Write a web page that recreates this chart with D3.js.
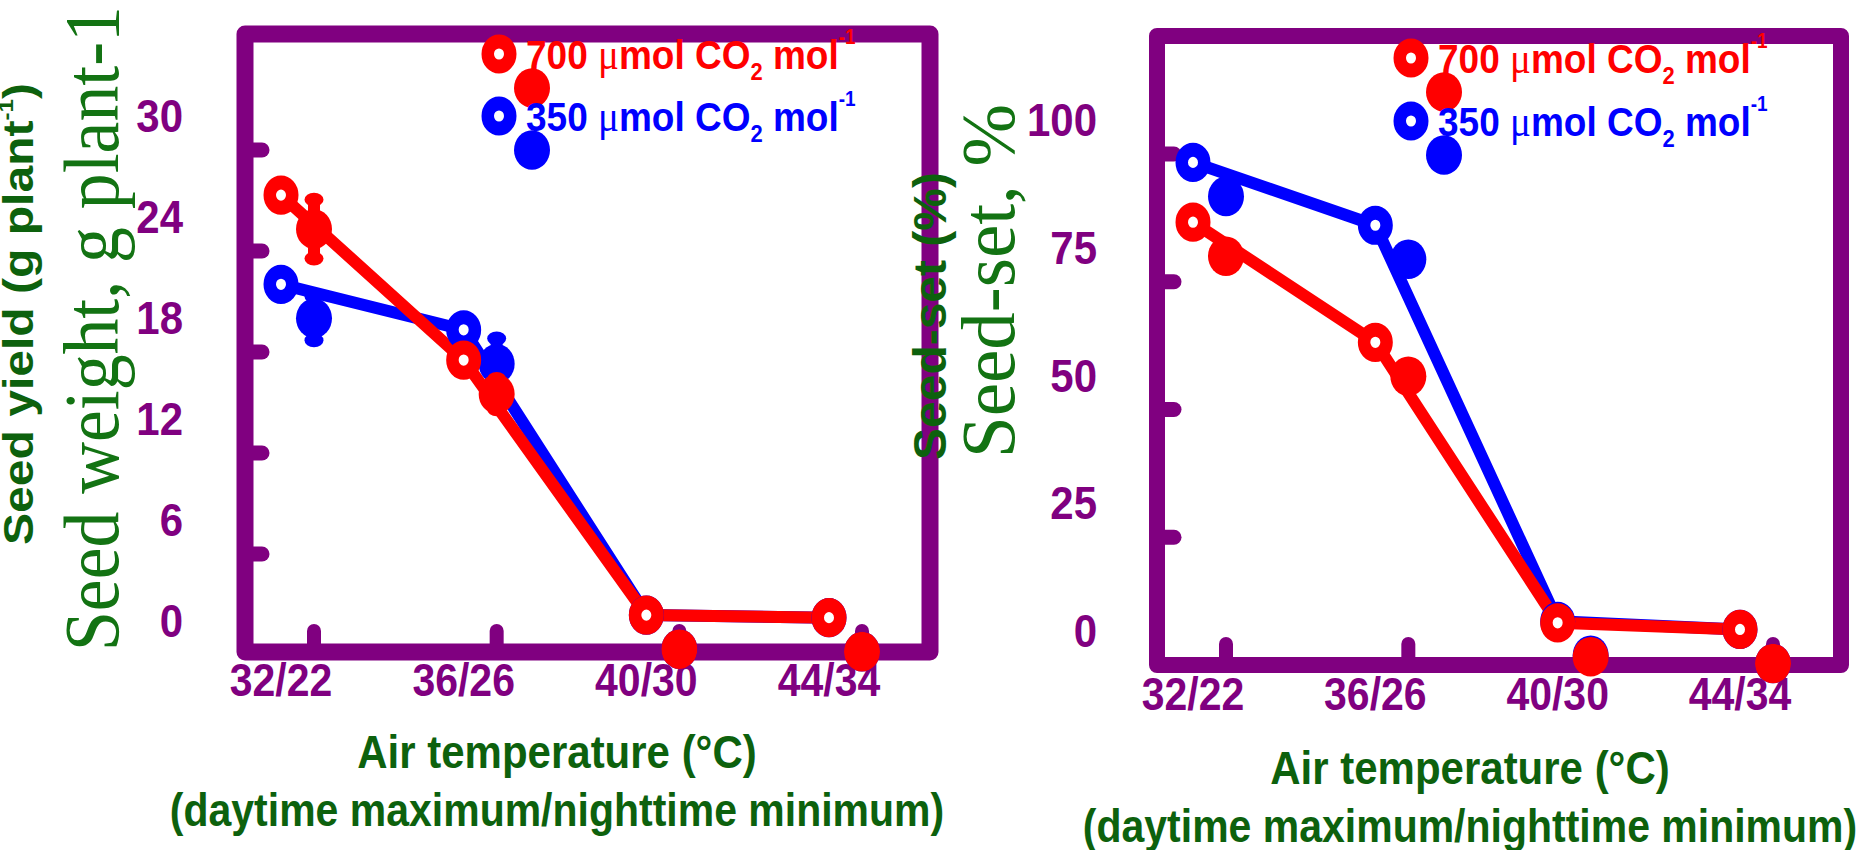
<!DOCTYPE html>
<html lang="en">
<head>
<meta charset="UTF-8">
<title>Seed yield and seed-set vs air temperature</title>
<style>
  body { margin: 0; background: #fff; }
  svg { display: block; background: #fff; }
  text { font-family: "Liberation Sans", Arial, sans-serif; font-weight: bold; }
  .serif { font-family: "Liberation Serif", "Times New Roman", serif; font-weight: normal; }
</style>
</head>
<body>
<svg width="1872" height="850"></svg>
<script src="https://d3js.org/d3.v7.min.js"></script>
<script>
// data
const categories = ["32/22", "36/26", "40/30", "44/34"];
const yield700 = [25.3, 15.5, 0.35, 0.2];
const yield350 = [20.0, 17.3, 0.35, 0.2];
const yieldErr700 = [1.75, 0.9, 0, 0];
const yieldErr350 = [1.3, 1.5, 0, 0];
const seedSet700 = [80.0, 56.5, 1.6, 0.3];
const seedSet350 = [91.7, 79.4, 1.9, 0.3];
const seedSetErr700 = [0, 0, 0, 0];
const seedSetErr350 = [0, 0, 0, 0];
const yieldTicks = [0, 6, 12, 18, 24, 30];
const seedSetTicks = [0, 25, 50, 75, 100];

const PURPLE = "#800080", GREEN = "#0d610d", SERIF_GREEN = "#137313";
const RED = "#ff0000", BLUE = "#0000ff";
const K = 1.12;            // source picture is stretched vertically
const SHIFT = [-33, -34];  // labels, lines and open markers sit off the axes layer

const panels = [
  {
    box: [245, 34, 930, 652], frameWidth: 17,
    xRange: [314, 862], yDomain: [0, 30], yRange: [655, 150], ticks: yieldTicks,
    s700: yield700, s350: yield350, e700: yieldErr700, e350: yieldErr350,
    legend: [532, 88, 62], tickLabelX: 183, xLabelY: 696, titleX: 557, titleY: [768, 826],
    boldTitle: { x: 33, y: 545, len: 462, size: 42, main: "Seed yield (g plant", sup: "-1", tail: ")" },
    serifTitle: { x: 118, y: 651, len: 645, size: 78, text: "Seed weight, g plant-1" }
  },
  {
    box: [1157, 36, 1841, 665], frameWidth: 16,
    xRange: [1226, 1773], yDomain: [0, 100], yRange: [665, 154], ticks: seedSetTicks,
    s700: seedSet700, s350: seedSet350, e700: seedSetErr700, e350: seedSetErr350,
    legend: [1444, 92, 63], tickLabelX: 1097, xLabelY: 710, titleX: 1470, titleY: [784, 842],
    boldTitle: { x: 946, y: 460, len: 288, size: 46, main: "Seed-set (%)", sup: "", tail: "" },
    serifTitle: { x: 1014, y: 458, len: 354, size: 76, text: "Seed-set, %" }
  }
];

const svg = d3.select("svg");

function openMarker(g, x, y, color) {
  g.append("circle")
    .attr("transform", `translate(${x},${y}) scale(1,${K})`)
    .attr("r", 11.25).attr("fill", "#fff")
    .attr("stroke", color).attr("stroke-width", 12.5);
}

function filledMarker(g, x, y, color) {
  g.append("circle")
    .attr("transform", `translate(${x},${y}) scale(1,1.1)`)
    .attr("r", 18).attr("fill", color);
}

function legendText(g, x, y, label, color) {
  const t = g.append("text")
    .attr("transform", `translate(${x},${y}) scale(1,${K})`)
    .attr("fill", color).style("font-size", "37px");
  t.append("tspan").text(label + " ");
  t.append("tspan").attr("class", "serif").style("font-size", "39px").text("μ");
  t.append("tspan").text("mol CO");
  t.append("tspan").attr("dy", 10).style("font-size", "22px").text("2");
  t.append("tspan").attr("dy", -10).text(" mol");
  t.append("tspan").attr("dy", -22).style("font-size", "19px").text("-1");
}

// rotate a title and squeeze/stretch it along its baseline to the wanted length
function fitRotated(t, x, y, len) {
  const w = t.node().getComputedTextLength();
  t.attr("transform", `translate(${x},${y}) rotate(-90) scale(${len / w},1)`);
}

panels.forEach(p => {
  const g = svg.append("g");
  const [L, T, R, B] = p.box;
  const x = d3.scalePoint().domain(categories).range(p.xRange);
  const y = d3.scaleLinear().domain(p.yDomain).range(p.yRange);
  const ox = c => x(c) + SHIFT[0];
  const oy = v => y(v) + SHIFT[1];

  // frame and tick stubs
  g.append("rect")
    .attr("x", L).attr("y", T).attr("width", R - L).attr("height", B - T)
    .attr("fill", "none").attr("stroke", PURPLE)
    .attr("stroke-width", p.frameWidth).attr("stroke-linejoin", "round");

  g.selectAll(".ytick").data(p.ticks.filter(v => v > 0)).join("line")
    .attr("x1", L).attr("x2", L + 17)
    .attr("y1", d => y(d)).attr("y2", d => y(d))
    .attr("stroke", PURPLE).attr("stroke-width", 15).attr("stroke-linecap", "round");

  g.selectAll(".xtick").data(categories).join("line")
    .attr("x1", d => x(d)).attr("x2", d => x(d))
    .attr("y1", B).attr("y2", B - 21)
    .attr("stroke", PURPLE).attr("stroke-width", 14).attr("stroke-linecap", "round");

  // tick labels (shifted layer)
  p.ticks.forEach(v => {
    g.append("text")
      .attr("transform", `translate(${p.tickLabelX},${oy(v) + 16}) scale(1,${K})`)
      .attr("text-anchor", "end").attr("fill", PURPLE)
      .style("font-size", "42px").text(v);
  });
  categories.forEach(c => {
    g.append("text")
      .attr("transform", `translate(${ox(c)},${p.xLabelY}) scale(1,${K})`)
      .attr("text-anchor", "middle").attr("fill", PURPLE)
      .style("font-size", "41px").text(c);
  });

  const series = [
    { vals: p.s350, errs: p.e350, color: BLUE },
    { vals: p.s700, errs: p.e700, color: RED }
  ];

  // lines through the shifted open markers
  const line = d3.line().x((d, i) => ox(categories[i])).y(d => oy(d));
  series.forEach(s => {
    g.append("path").datum(s.vals).attr("d", line)
      .attr("fill", "none").attr("stroke", s.color)
      .attr("stroke-width", 12).attr("stroke-linejoin", "round");
  });

  // filled markers with error bars on the axes layer
  series.forEach(s => {
    s.vals.forEach((v, i) => {
      const cx = x(categories[i]);
      const e = s.errs[i];
      if (e > 0) {
        g.append("line")
          .attr("x1", cx).attr("x2", cx).attr("y1", y(v + e)).attr("y2", y(v - e))
          .attr("stroke", s.color).attr("stroke-width", 12);
        [v + e, v - e].forEach(w => {
          g.append("ellipse").attr("cx", cx).attr("cy", y(w))
            .attr("rx", 9.5).attr("ry", 7).attr("fill", s.color);
        });
      }
      filledMarker(g, cx, y(v), s.color);
    });
  });

  // open markers on the shifted layer
  series.forEach(s => {
    s.vals.forEach((v, i) => openMarker(g, ox(categories[i]), oy(v), s.color));
  });

  // legend
  const [lx, ly, lstep] = p.legend;
  [{ label: "700", color: RED }, { label: "350", color: BLUE }].forEach((d, i) => {
    const fy = ly + i * lstep;
    filledMarker(g, lx, fy, d.color);
    openMarker(g, lx + SHIFT[0], fy + SHIFT[1], d.color);
    legendText(g, lx + SHIFT[0] + 27, fy + SHIFT[1] + 15, d.label, d.color);
  });

  // x axis title
  g.append("text")
    .attr("transform", `translate(${p.titleX},${p.titleY[0]}) scale(1,${K})`)
    .attr("text-anchor", "middle").attr("fill", GREEN)
    .style("font-size", "42px").text("Air temperature (°C)");
  g.append("text")
    .attr("transform", `translate(${p.titleX},${p.titleY[1]}) scale(1,${K})`)
    .attr("text-anchor", "middle").attr("fill", GREEN)
    .style("font-size", "41px").text("(daytime maximum/nighttime minimum)");

  // y axis titles: bold sans and serif versions overlap
  const bt = p.boldTitle;
  const b = g.append("text")
    .attr("fill", GREEN).style("font-size", bt.size + "px");
  b.append("tspan").text(bt.main);
  if (bt.sup) {
    b.append("tspan").attr("dy", -20).style("font-size", "21px").text(bt.sup);
    b.append("tspan").attr("dy", 20).text(bt.tail);
  }
  fitRotated(b, bt.x, bt.y, bt.len);

  const st = p.serifTitle;
  const s = g.append("text")
    .attr("class", "serif")
    .attr("fill", SERIF_GREEN).style("font-size", st.size + "px")
    .text(st.text);
  fitRotated(s, st.x, st.y, st.len);
});
</script>
</body>
</html>
